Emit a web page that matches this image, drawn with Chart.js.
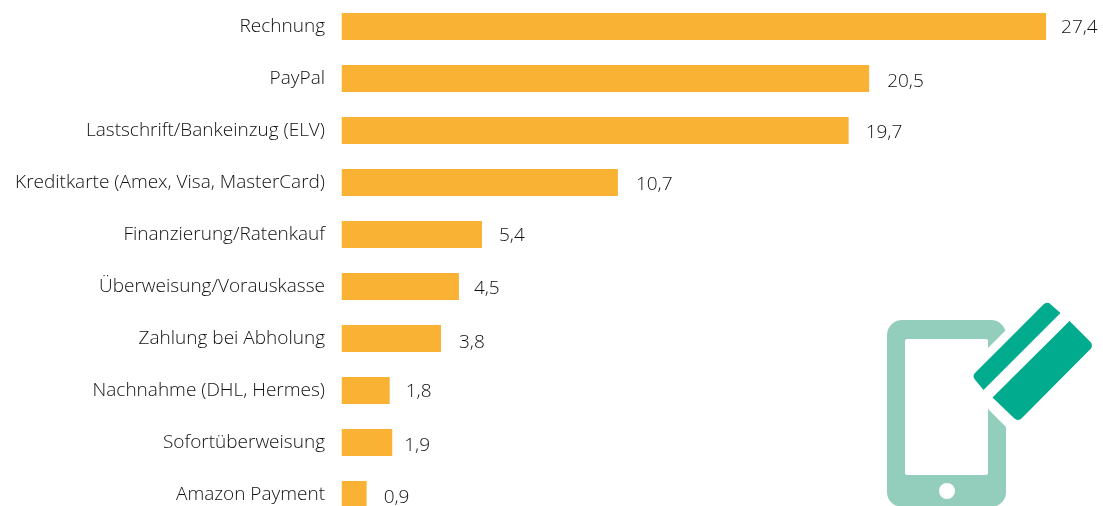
<!DOCTYPE html>
<html lang="de">
<head>
<meta charset="utf-8">
<title>Zahlungsarten</title>
<script src="https://cdn.jsdelivr.net/npm/chart.js@4"></script>
<style>
    html, body { margin: 0; padding: 0; background: #fff; overflow: hidden; height: 506px; }
    canvas { display: block; }
</style>
</head>
<body>
<canvas id="paymentChart" width="1103" height="521"></canvas>
<script>
var categories = ['Rechnung', 'PayPal', 'Lastschrift/Bankeinzug (ELV)', 'Kreditkarte (Amex, Visa, MasterCard)',
    'Finanzierung/Ratenkauf', 'Überweisung/Vorauskasse', 'Zahlung bei Abholung', 'Nachnahme (DHL, Hermes)',
    'Sofortüberweisung', 'Amazon Payment'];
var values = [27.4, 20.5, 19.7, 10.7, 5.4, 4.5, 3.8, 1.8, 1.9, 0.9];
var valueLabels = ['27,4', '20,5', '19,7', '10,7', '5,4', '4,5', '3,8', '1,8', '1,9', '0,9'];

var fontFamily = '"Open Sans", sans-serif';
var fontWeight = 300;
var fontSize = 19;
var textColor = '#111111';

// the value labels don't sit evenly next to the bars in the original
var labelShiftX = [15, 18, 17, 18, 17, 15, 18, 16, 12, 17];
var labelShiftY = [1, 3, 2, 2, 1, 2, 4, 1, 3, 3];

// value labels next to the bars
var valueLabelPlugin = {
    id: 'valueLabels',
    afterDatasetsDraw: function (chart) {
        var ctx = chart.ctx;
        var meta = chart.getDatasetMeta(0);
        ctx.save();
        ctx.font = fontWeight + ' ' + fontSize + 'px ' + fontFamily;
        ctx.fillStyle = textColor;
        ctx.textBaseline = 'middle';
        meta.data.forEach(function (bar, i) {
            ctx.fillText(valueLabels[i], bar.x + labelShiftX[i], bar.y + labelShiftY[i]);
        });
        ctx.restore();
    }
};

// phone and credit card icon, bottom right
var iconPlugin = {
    id: 'paymentIcon',
    afterDraw: function (chart) {
        var ctx = chart.ctx;
        ctx.save();
        ctx.fillStyle = '#93cdbc';
        ctx.beginPath();
        ctx.roundRect(887, 320, 119, 187, 15);
        ctx.fill();
        ctx.fillStyle = '#ffffff';
        ctx.beginPath();
        ctx.roundRect(905, 339, 83, 136, 2);
        ctx.fill();
        ctx.beginPath();
        ctx.arc(947, 491, 8, 0, Math.PI * 2);
        ctx.fill();
        ctx.beginPath();
        ctx.moveTo(957.5, 378.5);
        ctx.lineTo(1110, 226);
        ctx.lineTo(1110, 531);
        ctx.closePath();
        ctx.fill();

        ctx.fillStyle = '#00ab8e';
        roundedShape(ctx, [[1047, 301], [1060.5, 313], [983.5, 390], [972, 376]], [5, 0, 0, 5]);
        roundedShape(ctx, [[1069.5, 321], [1094, 345.5], [1018, 422], [992.5, 397.5]], [0, 5, 5, 0]);
        ctx.restore();
    }
};

function roundedShape(ctx, pts, radii) {
    var last = pts[pts.length - 1];
    ctx.beginPath();
    ctx.moveTo((last[0] + pts[0][0]) / 2, (last[1] + pts[0][1]) / 2);
    pts.forEach(function (p, i) {
        var next = pts[(i + 1) % pts.length];
        ctx.arcTo(p[0], p[1], next[0], next[1], radii[i]);
    });
    ctx.closePath();
    ctx.fill();
}

// bars in the original start a little left of zero
var axisMin = -0.08;

var paymentCtx = document.getElementById('paymentChart').getContext('2d');
var paymentChart = new Chart(paymentCtx, {
    type: 'bar',
    data: {
        labels: categories,
        datasets: [{
            data: values,
            base: axisMin,
            backgroundColor: '#f9b233',
            barPercentage: 27 / 52,
            categoryPercentage: 1
        }]
    },
    plugins: [valueLabelPlugin, iconPlugin],
    options: {
        indexAxis: 'y',
        responsive: false,
        animation: false,
        layout: { padding: { top: 0.5, bottom: 0.5, right: 15.9 } },
        plugins: { legend: { display: false }, tooltip: { enabled: false } },
        scales: {
            x: { display: false, min: axisMin, max: 29 },
            y: {
                grid: { display: false, drawTicks: false },
                border: { display: false },
                afterFit: function (scale) {
                    // tick padding must not shrink the plot vertically
                    scale.width = 341.5;
                    scale.paddingTop = 0;
                    scale.paddingBottom = 0;
                },
                ticks: {
                    color: textColor,
                    padding: 16.5,
                    autoSkip: false,
                    font: { family: fontFamily, size: fontSize, weight: fontWeight }
                }
            }
        }
    }
});
</script>
</body>
</html>
